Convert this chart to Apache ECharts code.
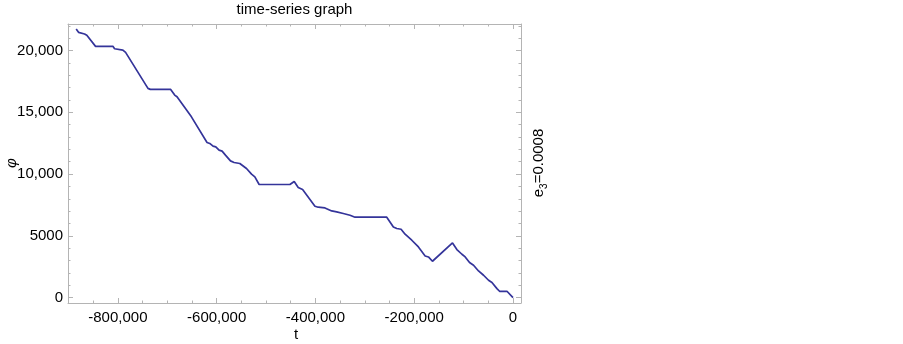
<!DOCTYPE html>
<html>
<head>
<meta charset="utf-8">
<script src="https://cdn.jsdelivr.net/npm/echarts@6/dist/echarts.min.js"></script>
<style>html,body{margin:0;padding:0;background:#fff}#c{width:903px;height:344px}</style>
</head>
<body>
<div id="c"></div>
<script>
// ---- data ----
const tValues = [-884400,-879700,-867500,-862900,-845200,-810100,-806700,-789900,-784400,-739100,-734300,-693100,-685000,-680300,-651100,-619500,-614000,-607300,-601800,-595100,-589000,-582200,-572000,-564700,-553100,-539600,-529400,-522700,-514000,-451700,-449700,-443000,-434900,-426000,-401000,-394300,-380700,-367100,-357000,-343600,-330000,-319900,-255600,-242200,-235300,-226600,-218500,-204900,-191500,-177900,-171200,-163100,-122500,-113600,-103400,-96800,-88000,-79900,-69800,-59600,-49500,-42600,-32500,-27200,-12200,0];
const phiValues = [21742,21475,21337,21232,20340,20340,20146,20040,19854,16937,16856,16856,16394,16256,14635,12561,12480,12261,12204,11937,11856,11532,11070,10940,10859,10454,9992,9773,9157,9157,9019,9400,8914,8752,7399,7318,7261,7018,6937,6807,6669,6507,6507,5721,5592,5535,5130,4643,4100,3371,3290,2942,4425,3890,3509,3290,2836,2618,2156,1807,1402,1216,729,511,511,0];
const xMajorTicks = [-800000,-600000,-400000,-200000,0];
const xMinorTicks = [-900000,-850000,-750000,-700000,-650000,-550000,-500000,-450000,-350000,-300000,-250000,-150000,-100000,-50000];
const yMajorTicks = [0,5000,10000,15000,20000];
const yMinorTicks = [1000,2000,3000,4000,6000,7000,8000,9000,11000,12000,13000,14000,16000,17000,18000,19000,21000,22000];
const titleText = 'time-series graph';
const xName = 't';
const yName = 'φ';

const seriesData = tValues.map((t, i) => [t, phiValues[i]]);
const FONT = '"Liberation Sans", Arial, sans-serif';
const FRAME = '#b4b4b4';
const fmt = v => {
  const a = Math.abs(v);
  let s = a >= 10000 ? a.toString().replace(/\B(?=(\d{3})+(?!\d))/g, ',') : String(a);
  return (v < 0 ? '-' : '') + s;
};
const X_MIN = -901000, X_MAX = 16200, Y_MIN = -438, Y_MAX = 22150;

function xAx(pos, ticks, len, line, labels) {
  return {
    type: 'value', min: X_MIN, max: X_MAX, position: pos,
    axisLine: { show: line, onZero: false, lineStyle: { color: FRAME, width: 1 } },
    axisTick: { show: true, inside: true, length: len, customValues: ticks, lineStyle: { color: FRAME } },
    axisLabel: labels ? { show: true, customValues: ticks, formatter: fmt, margin: 7, color: '#000', fontSize: 15, fontFamily: FONT } : { show: false },
    splitLine: { show: false }
  };
}
function yAx(pos, ticks, len, line, labels) {
  return {
    type: 'value', min: Y_MIN, max: Y_MAX, position: pos,
    axisLine: { show: line, onZero: false, lineStyle: { color: FRAME, width: 1 } },
    axisTick: { show: true, inside: true, length: len, customValues: ticks, lineStyle: { color: FRAME } },
    axisLabel: labels ? { show: true, customValues: ticks, formatter: fmt, margin: 5, color: '#000', fontSize: 15, fontFamily: FONT } : { show: false },
    splitLine: { show: false }
  };
}

const chart = echarts.init(document.getElementById('c'), null, { renderer: 'canvas' });
chart.setOption({
  animation: false,
  backgroundColor: '#fff',
  grid: { left: 68, top: 24, width: 453, height: 279, containLabel: false },
  xAxis: [
    xAx('bottom', xMajorTicks, 5, true, true),
    xAx('bottom', xMinorTicks, 2.5, false, false),
    xAx('top', xMajorTicks, 5, true, false),
    xAx('top', xMinorTicks, 2.5, false, false)
  ],
  yAxis: [
    yAx('left', yMajorTicks, 5, true, true),
    yAx('left', yMinorTicks, 2.5, false, false),
    yAx('right', yMajorTicks, 5, true, false),
    yAx('right', yMinorTicks, 2.5, false, false)
  ],
  series: [{
    type: 'line', xAxisIndex: 0, yAxisIndex: 0, data: seriesData,
    showSymbol: false, symbol: 'none',
    lineStyle: { color: '#34349a', width: 1.7 }
  }],
  graphic: [
    { type: 'text', x: 294.5, y: 10, style: { text: titleText, fill: '#000', font: '15px ' + FONT, textAlign: 'center', textVerticalAlign: 'middle' } },
    { type: 'text', x: 296, y: 335, style: { text: xName, fill: '#000', font: '15px ' + FONT, textAlign: 'center', textVerticalAlign: 'middle' } },
    { type: 'text', x: 12, y: 163, rotation: Math.PI / 2, style: { text: yName, fill: '#000', font: 'italic 15px ' + FONT, textAlign: 'center', textVerticalAlign: 'middle' } },
    { type: 'text', x: 539, y: 163, rotation: Math.PI / 2, style: {
        text: '{a|e}{b|3}{a|=0.0008}', textAlign: 'center', textVerticalAlign: 'middle',
        rich: {
          a: { fontSize: 15, fontFamily: FONT, fill: '#000', color: '#000', lineHeight: 20, verticalAlign: 'middle' },
          b: { fontSize: 10, fontFamily: FONT, fill: '#000', color: '#000', lineHeight: 12, verticalAlign: 'bottom' }
        } } }
  ]
});
</script>
</body>
</html>
